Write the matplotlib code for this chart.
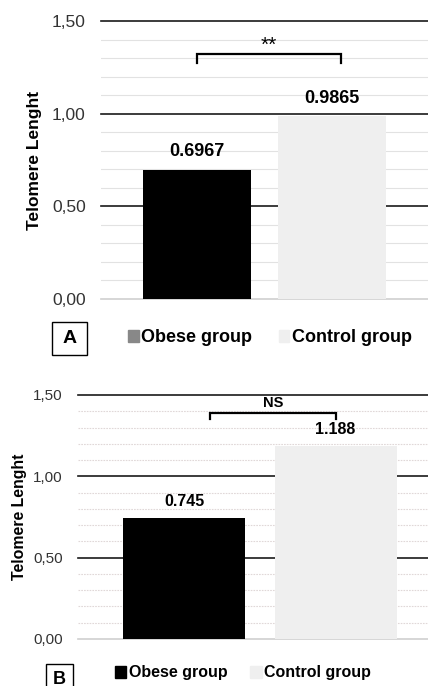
import numpy as np
import matplotlib.pyplot as plt
from matplotlib.patches import Patch, Rectangle

plt.rcParams['font.family'] = ['Liberation Sans', 'DejaVu Sans']

groups = ['Obese group', 'Control group']
values_a = [0.6967, 0.9865]
labels_a = ['0.6967', '0.9865']
values_b = [0.745, 1.188]
labels_b = ['0.745', '1.188']

major_ticks = [0.0, 0.5, 1.0, 1.5]
major_labels = ['0,00', '0,50', '1,00', '1,50']
minor_ticks = [0.1, 0.2, 0.3, 0.4, 0.6, 0.7, 0.8, 0.9, 1.1, 1.2, 1.3, 1.4]

bar_colors = ['#000000', '#efefef']
W, H = 428, 686

fig = plt.figure(figsize=(W / 100, H / 100), dpi=100)


def px_axes(left, right, y0, y15):
    # axes box from pixel positions of x-range and of y=0 / y=1.5
    return fig.add_axes([left / W, (H - y0) / H, (right - left) / W, (y0 - y15) / H])


def panel(ax, values, labels, xlim, width, fs_tick, minor_style, lbl_off, lbl_fs, ylab_fs):
    ax.set_xlim(*xlim)
    ax.set_ylim(0, 1.5)
    for t in minor_ticks:
        ax.axhline(t, zorder=0, **minor_style)
    for t in major_ticks:
        if t == 0:
            ax.axhline(t, color='#cfcfcf', lw=1.2, zorder=0, clip_on=False)
        else:
            ax.axhline(t, color='#1a1a1a', lw=1.2, zorder=0, clip_on=False)
    x = np.arange(len(values))
    ax.bar(x, values, width=width, color=bar_colors, zorder=2)
    for xi, v, s in zip(x, values, labels):
        ax.annotate(s, (xi, v), xytext=(0, lbl_off), textcoords='offset points',
                    ha='center', va='center', fontsize=lbl_fs, fontweight='bold')
    ax.set_yticks(major_ticks)
    ax.set_yticklabels(major_labels, fontsize=fs_tick, color='#333333')
    ax.set_xticks([])
    ax.tick_params(axis='y', length=0, pad=11)
    for sp in ax.spines.values():
        sp.set_visible(False)
    ax.set_ylabel('Telomere Lenght', fontsize=ylab_fs, fontweight='bold')


def bracket(ax, x0, x1, ytop, ybot, text, ytext, **kw):
    ax.plot([x0, x0, x1, x1], [ybot, ytop, ytop, ybot], color='black', lw=1.6,
            solid_joinstyle='miter', zorder=3)
    ax.text((x0 + x1) / 2, ytext, text, ha='center', va='center', **kw)


# panel A
ax_a = px_axes(101, 428, 299, 21)
panel(ax_a, values_a, labels_a, (-0.711, 1.711), 0.8, 12.5,
      dict(color='#e2e2e2', lw=0.8), 13, 13, 12.5)
ax_a.yaxis.set_label_coords(-0.18, 0.5)
bracket(ax_a, 0.0, 1.067, 1.322, 1.274, '**', 1.37, fontsize=15)

# panel B
ax_b = px_axes(78, 428, 639, 395)
panel(ax_b, values_b, labels_b, (-0.70, 1.61), 0.805, 11,
      dict(color='#e0d8d8', lw=0.8, ls=(0, (1.5, 1))), 11.5, 11.5, 11.4)
ax_b.yaxis.set_label_coords(-0.146, 0.5)
bracket(ax_b, 0.172, 1.003, 1.387, 1.35, 'NS', 1.452, fontsize=10.5,
        fontweight='bold')

# legends
leg_a = dict(loc='center', ncol=2, frameon=False, borderpad=0,
             handlelength=0.6, handleheight=0.6, handletextpad=0.15,
             columnspacing=1.45, prop=dict(size=13, weight='bold'))
leg_b = dict(leg_a, handlelength=0.7, handleheight=0.7,
             prop=dict(size=11.5, weight='bold'))
fig.legend(handles=[Patch(color='#888888', label=groups[0]),
                    Patch(color='#efefef', label=groups[1])],
           bbox_to_anchor=(270 / W, (H - 338) / H), **leg_a)
fig.legend(handles=[Patch(color='#000000', label=groups[0]),
                    Patch(color='#efefef', label=groups[1])],
           bbox_to_anchor=(243 / W, (H - 673) / H), **leg_b)

# panel letters
fig.add_artist(Rectangle((52 / W, (H - 355) / H), 35 / W, 33 / H,
                         transform=fig.transFigure, fill=False, ec='black', lw=1))
fig.text(69.5 / W, (H - 338.5) / H, 'A', ha='center', va='center',
         fontsize=14, fontweight='bold')
fig.add_artist(Rectangle((46 / W, (H - 695) / H), 27 / W, 31 / H,
                         transform=fig.transFigure, fill=False, ec='black', lw=1))
fig.text(59.5 / W, (H - 679) / H, 'B', ha='center', va='center',
         fontsize=13, fontweight='bold')

fig.savefig('out.png', dpi=100, facecolor='white')
